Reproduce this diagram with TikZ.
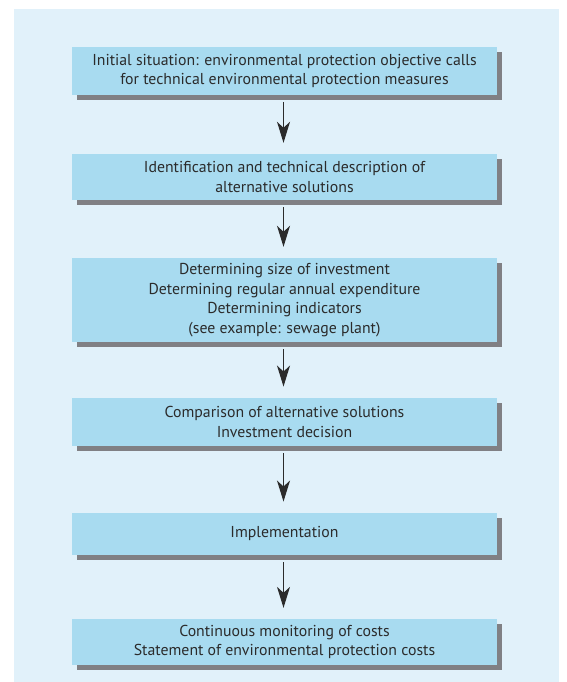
\documentclass[tikz,border=0pt]{standalone}
\usepackage{fontspec}
\setmainfont{PT Sans}
\usetikzlibrary{arrows.meta,shadows}

\definecolor{panelblue}{HTML}{E1F1FA}
\definecolor{boxblue}{HTML}{A8DBF0}
\definecolor{shadowgrey}{HTML}{808084}
\definecolor{inkgrey}{HTML}{2B2B2B}

\tikzset{
  stagebox/.style={
    rectangle, fill=boxblue, draw=none,
    minimum width=425pt, inner sep=0pt,
    align=center, text=inkgrey,
    font=\fontsize{15.8}{19.5}\selectfont,
    drop shadow={shadow xshift=5pt, shadow yshift=-5pt, fill=shadowgrey, opacity=1}
  },
  flowarrow/.style={
    draw=inkgrey, line width=1.3pt,
    -{Stealth[length=21pt, width=13pt, inset=6pt]}
  }
}

\begin{document}
\begin{tikzpicture}[x=1pt, y=-1pt]
  \useasboundingbox (0,0) rectangle (566,682);
  \fill[panelblue] (14,9) rectangle (559,682);

  \node[stagebox, minimum height=47.7pt] (b1) at (284.5,70.9)
    {Initial situation: environmental protection objective calls\\
     for technical environmental protection measures};
  \node[stagebox, minimum height=46pt] (b2) at (284.5,177)
    {Identification and technical description of\\
     alternative solutions};
  \node[stagebox, minimum height=84pt] (b3) at (284.5,300)
    {Determining size of investment\\
     Determining regular annual expenditure\\
     Determining indicators\\
     (see example: sewage plant)};
  \node[stagebox, minimum height=48.3pt] (b4) at (284.5,421.9)
    {Comparison of alternative solutions\\
     Investment decision};
  \node[stagebox, minimum height=42.3pt] (b5) at (284.5,533.9)
    {Implementation};
  \node[stagebox, minimum height=45.7pt] (b6) at (284.5,641.9)
    {Continuous monitoring of costs\\
     Statement of environmental protection costs};

  \foreach \a/\b in {b1/b2, b2/b3, b3/b4, b4/b5, b5/b6}
    \draw[flowarrow] ([xshift=-1pt, yshift=-7pt]\a.south) -- ([xshift=-1pt, yshift=11pt]\b.north);
\end{tikzpicture}
\end{document}
